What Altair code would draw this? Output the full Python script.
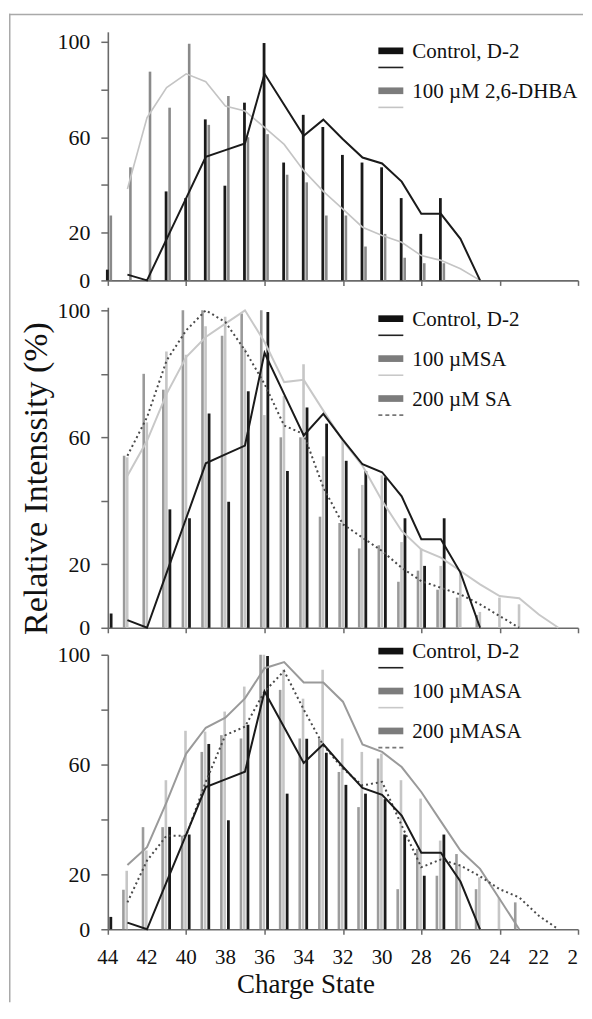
import altair as alt
import pandas as pd

FONT = "Liberation Serif, Times New Roman, DejaVu Serif, serif"

# Charge states 44 ... 20 (reversed axis)
charges = list(range(44, 19, -1))

# x tick labels (every second charge state; the last one is cut to "2" in the figure)
x_label_charges = [44, 42, 40, 38, 36, 34, 32, 30, 28, 26, 24, 22]
x_label_texts = ["44", "42", "40", "38", "36", "34", "32", "30", "28", "26", "24", "22"]
x_last_charge = [20]
x_last_text = ["2"]

# ---- control (D-2), shared by all three panels ----
control_bars = [4.5, 0, 0, 37.3, 34.5, 67.5, 39.7, 74.5, 99.5, 49.4, 69.4, 64.3, 52.6,
                49.4, 47.4, 34.5, 19.5, 34.5, 0, 0, 0, 0, 0, 0, 0]
control_line = [None, 2.4, 0, 17.3, 34.5, 51.8, 54.6, 57.4, 86.6, 73.6, 60.6, 67.4, 59.2,
                51.5, 49.0, 41.4, 27.9, 27.9, 17.4, 0, None, None, None, None, None]

# ---- panel 1 : 100 uM 2,6-DHBA ----
dhba_bars = [27.2, 47.4, 87.5, 72.4, 99.2, 65.2, 77.3, 60.0, 61.3, 44.3, 41.1, 27.2, 27.2,
             14.2, 19.5, 9.5, 7.2, 7.2, 0, 0, 0, 0, 0, 0, 0]
dhba_line = [None, 38.3, 68.2, 80.8, 86.6, 83.3, 73.1, 71.0, 64.1, 57.0, 46.0, 37.3, 29.9,
             22.3, 18.8, 16.0, 10.4, 8.4, 4.9, 0, None, None, None, None, None]

# ---- panel 2 : SA ----
sa100_bars = [0, 53.7, 64.7, 87.0, 86.0, 95.0, 98.0, 88.0, 67.0, 73.0, 83.0, 54.0, 59.0,
              45.0, 48.0, 27.0, 25.0, 19.5, 18.0, 5.0, 9.5, 7.4, 0, 0, 0]
sa200_bars = [0, 54.2, 80.0, 75.0, 100.0, 100.0, 92.0, 99.0, 100.0, 60.0, 60.0, 35.0, 33.0,
              25.0, 26.0, 14.5, 18.0, 12.0, 9.5, 4.0, 0, 0, 0, 0, 0]
sa100_line = [None, 47.9, 58.9, 73.7, 85.3, 91.6, 95.8, 100.0, 90.0, 77.4, 78.1, 68.4, 58.9,
              51.0, 40.0, 30.5, 24.7, 22.1, 17.9, 13.7, 10.0, 9.3, 4.2, 0, None]
sa200_line = [None, 54.2, 66.3, 84.2, 93.7, 100.0, 96.3, 87.4, 76.8, 63.7, 61.0, 44.2, 32.6,
              28.4, 24.2, 18.9, 14.7, 12.6, 10.5, 7.4, 3.7, 0, None, None, None]

# ---- panel 3 : ASA ----
masa100_bars = [0, 21.3, 28.7, 54.3, 72.3, 72.0, 79.3, 88.4, 100.0, 94.5, 84.0, 94.5, 69.5,
                64.6, 64.0, 54.3, 47.6, 32.3, 23.2, 18.9, 11.6, 0, 0, 0, 0]
masa200_bars = [0, 14.4, 37.2, 37.2, 34.1, 64.6, 70.7, 69.5, 100.0, 87.2, 69.5, 69.5, 57.3,
                44.5, 62.2, 14.6, 29.3, 19.5, 27.4, 14.6, 0, 9.8, 0, 0, 0]
masa100_line = [None, 23.4, 29.9, 46.3, 64.0, 73.4, 77.1, 84.1, 95.1, 97.3, 89.9, 89.9, 82.9,
                67.3, 64.6, 59.1, 50.0, 39.3, 28.7, 22.0, 11.0, 0, None, None, None]
masa200_line = [None, 9.8, 25.0, 34.1, 34.1, 53.7, 70.7, 73.8, 86.6, 94.1, 80.0, 67.0, 58.5,
                52.4, 53.7, 37.8, 22.6, 25.4, 23.2, 19.3, 14.6, 11.6, 4.9, 0, None]

x_ticks = list(range(20, 45))
y_ticks = [0, 20, 40, 60, 80, 100]

W = 471
H1, H2, H3 = 249, 321, 275
D1, D2, D3 = 104.2, 100.94, 100.0

AXIS_GRAY = "#6a6a6a"
CTRL = "#1a1a1a"


def frame(values):
    return pd.DataFrame({"charge": charges, "value": values}).dropna()


def x_enc(title=None):
    kw = dict(values=x_ticks, labels=False, tickSize=5, tickWidth=1.5,
              tickColor=AXIS_GRAY, domainColor=AXIS_GRAY, domainWidth=1.6, grid=False)
    if title:
        kw.update(title=title, titleFont=FONT, titleFontSize=27, titleFontWeight="normal",
                  titleColor="#111", titleAnchor="start", titleAlign="center",
                  titleX=198, titleY=63, titleBaseline="alphabetic")
    else:
        kw.update(title=None)
    return alt.X("charge:Q", scale=alt.Scale(domain=[44, 20], nice=False, zero=False),
                 axis=alt.Axis(**kw))


def y_enc(top, title=None, title_y=0):
    kw = dict(values=y_ticks, labelExpr="datum.value == 40 || datum.value == 80 ? '' : datum.label",
              labelFont=FONT, labelFontSize=22, labelColor="#111", labelPadding=11,
              tickSize=7, tickWidth=1.5, tickColor=AXIS_GRAY, domainColor=AXIS_GRAY,
              domainWidth=1.6, grid=False, labelOverlap=False, labelFlush=False)
    if title:
        kw.update(title=title, titleFont=FONT, titleFontSize=34, titleFontWeight="normal",
                  titleColor="#111", titleAngle=270, titleBaseline="middle", titleAlign="center",
                  titleX=-71, titleY=title_y)
    else:
        kw.update(title=None)
    return alt.Y("value:Q", scale=alt.Scale(domain=[0, top], nice=False), axis=alt.Axis(**kw))


XN = alt.X("charge:Q")
YN = alt.Y("value:Q")


def bars(values, color, offset, width=2.6):
    return alt.Chart(frame(values)).mark_rule(color=color, strokeWidth=width, xOffset=offset).encode(
        x=XN, y=YN, y2=alt.datum(0))


def line(values, color, width=1.8, dash=None):
    kw = dict(color=color, strokeWidth=width)
    if dash:
        kw["strokeDash"] = dash
    return alt.Chart(frame(values)).mark_line(**kw).encode(x=XN, y=YN)


def legend(entries, top):
    # entries: (label, swatch colour, line colour, dashed)
    layers = []
    for i, (label, sw, lc, dashed) in enumerate(entries):
        y0 = top + i * 40
        df = pd.DataFrame({"label": [label]})
        layers.append(alt.Chart(df).mark_rect(color=sw).encode(
            x=alt.value(271), x2=alt.value(296), y=alt.value(y0), y2=alt.value(y0 + 6.7)))
        lk = dict(color=lc, strokeWidth=1.6)
        if dashed:
            lk["strokeDash"] = [4, 3]
        layers.append(alt.Chart(df).mark_rule(**lk).encode(
            x=alt.value(271), x2=alt.value(296), y=alt.value(y0 + 20)))
        layers.append(alt.Chart(df).mark_text(align="left", baseline="middle", font=FONT,
                                              fontSize=21, color="#111").encode(
            x=alt.value(305), y=alt.value(y0 + 4.5), text="label:N"))
    return layers


# ---------------- panel 1 ----------------
p1_axes = alt.Chart(frame(control_bars)).mark_rule(color=CTRL, strokeWidth=2.8, xOffset=-0.5).encode(
    x=x_enc(), y=y_enc(D1), y2=alt.datum(0))
frame_df = pd.DataFrame({"label": ["frame"]})
frame_top = alt.Chart(frame_df).mark_rule(color="#a9a9a9", strokeWidth=1.5).encode(
    x=alt.value(-99), x2=alt.value(476), y=alt.value(-17.25))
frame_left = alt.Chart(frame_df).mark_rule(color="#a9a9a9", strokeWidth=1.5).encode(
    x=alt.value(-98.25), y=alt.value(-18), y2=alt.value(972))

panel1 = alt.layer(
    p1_axes,
    bars(dhba_bars, "#8a8a8a", 3.0),
    line(dhba_line, "#c4c4c4", 1.6),
    line(control_line, CTRL, 2.0),
    *legend([("Control, D-2", "#111111", "#222222", False),
             ("100 µM 2,6-DHBA", "#7c7c7c", "#c4c4c4", False)], 15.7),
    frame_top, frame_left,
).properties(width=W, height=H1)

# ---------------- panel 2 ----------------
p2_axes = alt.Chart(frame(control_bars)).mark_rule(color=CTRL, strokeWidth=2.8, xOffset=3.3).encode(
    x=x_enc(), y=y_enc(D2, "Relative Intenssity (%)", 171), y2=alt.datum(0))
panel2 = alt.layer(
    p2_axes,
    bars(sa200_bars, "#9a9a9a", -3.3),
    bars(sa100_bars, "#c6c6c6", -0.2),
    line(sa100_line, "#c8c8c8", 2.0),
    line(sa200_line, "#4a4a4a", 2.0, [2, 3]),
    line(control_line, CTRL, 2.0),
    *legend([("Control, D-2", "#111111", "#222222", False),
             ("100 µMSA", "#7c7c7c", "#c8c8c8", False),
             ("200 µM SA", "#7c7c7c", "#777777", True)], 8),
).properties(width=W, height=H2)

# ---------------- panel 3 ----------------
p3_axes = alt.Chart(frame(control_bars)).mark_rule(color=CTRL, strokeWidth=2.8, xOffset=3.0).encode(
    x=x_enc("Charge State"), y=y_enc(D3), y2=alt.datum(0))
xlab = alt.Chart(pd.DataFrame({"charge": x_label_charges, "label": x_label_texts})).mark_text(
    align="center", baseline="alphabetic", font=FONT, fontSize=21, color="#111").encode(
    x=XN, y=alt.value(H3 + 35), text="label:N")
xlab_last = alt.Chart(pd.DataFrame({"charge": x_last_charge, "label": x_last_text})).mark_text(
    align="right", baseline="alphabetic", font=FONT, fontSize=21, color="#111").encode(
    x=XN, y=alt.value(H3 + 35), text="label:N")
panel3 = alt.layer(
    p3_axes,
    bars(masa200_bars, "#9c9c9c", -4.0),
    bars(masa100_bars, "#c6c6c6", -0.7),
    line(masa100_line, "#9a9a9a", 2.0),
    line(masa200_line, "#4a4a4a", 2.0, [2, 3]),
    line(control_line, CTRL, 2.0),
    xlab, xlab_last,
    *legend([("Control, D-2", "#111111", "#222222", False),
             ("100 µMASA", "#7c7c7c", "#c8c8c8", False),
             ("200 µMASA", "#7c7c7c", "#777777", True)], -7),
).properties(width=W, height=H3)

chart = alt.vconcat(panel1, panel2, panel3, spacing=27, bounds="flush").properties(
    padding={"left": 0, "top": 4, "right": 0, "bottom": 0}
).configure(font=FONT, background="white").configure_view(stroke=None).configure_axis(
    labelOverlap=False, labelFont=FONT, titleFont=FONT
).configure_text(font=FONT)

chart.save("out.html", embed_options={"renderer": "svg", "actions": False})
